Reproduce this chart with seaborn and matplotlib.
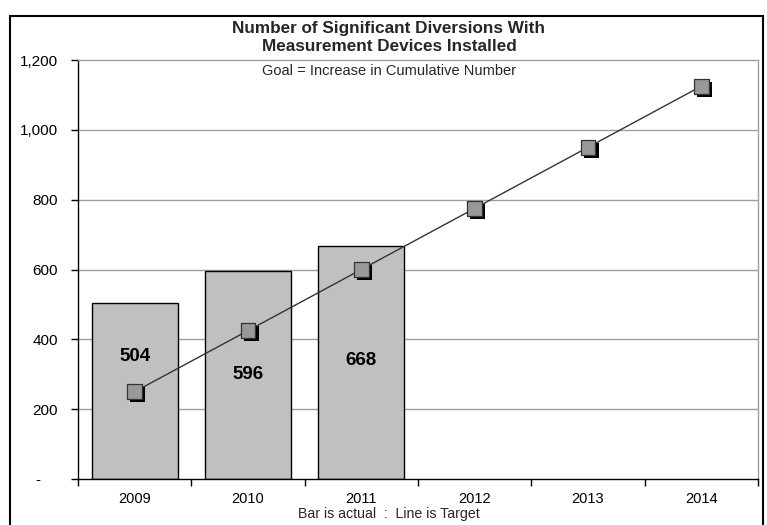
import matplotlib
matplotlib.use("Agg")
import matplotlib.pyplot as plt
import matplotlib.patheffects as pe
from matplotlib.patches import Rectangle
from matplotlib.ticker import FixedLocator, FuncFormatter
import seaborn as sns
import pandas as pd

# Chart data
years = ["2009", "2010", "2011", "2012", "2013", "2014"]
actual_years = ["2009", "2010", "2011"]
actual_counts = [504, 596, 668]
target_counts = [250, 425, 600, 775, 950, 1125]
y_ticks = [0, 200, 400, 600, 800, 1000, 1200]

title_text = "Number of Significant Diversions With\nMeasurement Devices Installed"
goal_text = "Goal = Increase in Cumulative Number"
x_caption = "Bar is actual  :  Line is Target"

# Vertical placement (data units) of the value labels inside the bars
label_heights = [350, 298, 338]

sns.set_theme(style="white")
plt.rcParams["font.family"] = ["Liberation Sans", "DejaVu Sans"]

W, H = 767, 525
fig = plt.figure(figsize=(W / 100, H / 100), dpi=100)
ax = fig.add_axes([78 / W, (H - 479) / H, 680 / W, 419 / H])

actual_df = pd.DataFrame({"year": actual_years, "count": actual_counts})
target_df = pd.DataFrame({"year": years, "target": target_counts})

sns.barplot(data=actual_df, x="year", y="count", order=years, color="#C0C0C0",
            saturation=1, width=0.76, edgecolor="black", linewidth=1.0, ax=ax,
            zorder=2)

# Target line and shadowed square markers
target_df["pos"] = range(len(years))
sns.lineplot(data=target_df, x="pos", y="target", color="#333333", linewidth=1.0,
             ax=ax, zorder=3)
sns.scatterplot(data=target_df, x="pos", y="target", marker="s", s=115,
                color="#999999", edgecolor="#333333", linewidth=0.9, ax=ax,
                zorder=4,
                path_effects=[pe.SimplePatchShadow(offset=(2.2, -2.2),
                                                   shadow_rgbFace="black", alpha=1.0),
                              pe.Normal()])

# Value labels inside the bars
for i, (v, h) in enumerate(zip(actual_counts, label_heights)):
    ax.text(i, h, f"{v:,}", ha="center", va="center", fontsize=13.5,
            fontweight="bold", color="black", zorder=5)

ax.set_xlim(-0.5, len(years) - 0.5)
ax.set_ylim(0, 1200)
ax.set_xlabel("")
ax.set_ylabel("")

# Gridlines
for y in y_ticks[1:-1]:
    ax.axhline(y, color="#A0A0A0", linewidth=1.0, zorder=1)

ax.yaxis.set_major_locator(FixedLocator(y_ticks))
ax.yaxis.set_major_formatter(FuncFormatter(lambda v, p: "-    " if v == 0 else f"{int(v):,}"))
ax.tick_params(axis="y", which="major", left=True, length=5, width=1, color="black",
               pad=9.4, labelsize=11, labelcolor="black")

ax.set_xticks(range(len(years)))
ax.set_xticklabels(years)
ax.xaxis.set_minor_locator(FixedLocator([i - 0.5 for i in range(len(years) + 1)]))
ax.tick_params(axis="x", which="major", bottom=True, length=0, pad=9.5, labelsize=10.5,
               labelcolor="black")
ax.tick_params(axis="x", which="minor", bottom=True, length=5, width=1, color="black")

for side in ["left", "bottom"]:
    ax.spines[side].set_color("black")
    ax.spines[side].set_linewidth(1.0)
for side in ["top", "right"]:
    ax.spines[side].set_color("#A0A0A0")
    ax.spines[side].set_linewidth(1.0)

# Titles and captions
cx = 389 / W
fig.text(cx, (H - 37.5) / H, title_text, ha="center", va="center", fontsize=12.3,
         fontweight="bold", linespacing=1.2)
fig.text(cx, (H - 71) / H, goal_text, ha="center", va="center", fontsize=10.5)
fig.text(cx, (H - 514) / H, x_caption, ha="center", va="center", fontsize=10.2)

# Outer chart frame
fig.patches.append(Rectangle((10 / W, -0.05), 753 / W, 0.05 + (H - 16) / H,
                             transform=fig.transFigure, fill=False,
                             edgecolor="black", linewidth=1.5))

fig.savefig("out.png", dpi=100)
